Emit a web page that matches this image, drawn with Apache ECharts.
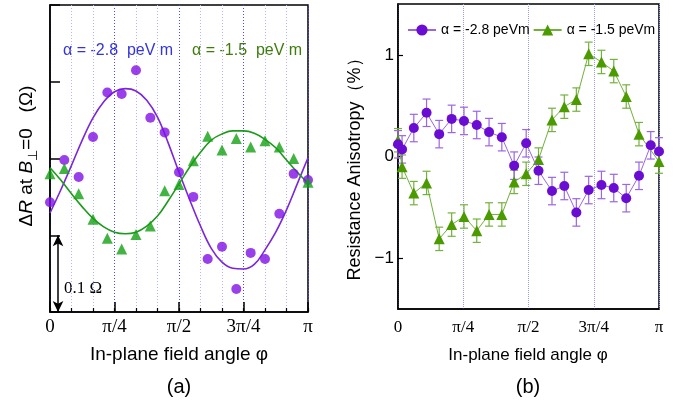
<!DOCTYPE html>
<html>
<head>
<meta charset="utf-8">
<script src="https://cdn.jsdelivr.net/npm/echarts@6/dist/echarts.min.js"></script>
<style>html,body{margin:0;padding:0;background:#fff;}#c{width:679px;height:405px;}</style>
</head>
<body>
<div id="c"></div>
<script>
// ---- data ----
const tickLabels = ['0', 'π/4', 'π/2', '3π/4', 'π'];
// panel (a): measured points (deg, mΩ relative)
const leftAngles = [0,10,20,30,40,50,60,70,80,90,100,110,120,130,140,150,160,170,180];
const leftPurple = [143,198,176,228,286,284,315,253,234,182,150,69,85,30,77,69,128,180,172];
const leftGreen  = [180,187,154,121,96,82,101,112,158,166,197,229,211,226,215,223,215,200,169];
// panel (a): fit curves
const fitAngles = [0,7.5,15,22.5,30,37.5,45,52.5,60,67.5,75,82.5,90,97.5,105,112.5,120,127.5,135,142.5,150,157.5,165,172.5,180];
const fitPurple = [129,159,191,224,253,274,287,291,288,276,254,220,182,146,112,83,65,57,56,62,81,104,133,167,201];
const fitGreen  = [188,172,154,137,122,111,104,102,104,112,125,145,167,189,208,224,232,236,236,233,225,214,198,182,168];
// panel (b)
const rightAnglesP = [0,2.8,10.9,19.7,28.4,37.0,45.5,54.3,62.8,71.6,80.1,88.4,96.9,106.2,114.7,123.0,131.5,140.3,148.8,157.4,166.2,174.3,180];
const rightPurple  = [0.12,0.07,0.28,0.43,0.22,0.37,0.35,0.31,0.24,0.19,-0.09,0.13,-0.14,-0.34,-0.29,-0.55,-0.33,-0.28,-0.31,-0.41,-0.19,0.11,0.05];
const rightAnglesG = [0,2.8,10.9,19.7,28.4,37.0,45.5,54.3,62.8,71.6,80.1,88.4,96.9,106.2,114.7,123.0,131.5,140.3,148.8,157.4,166.2,180];
const rightGreen   = [0.16,-0.10,-0.36,-0.26,-0.81,-0.67,-0.59,-0.73,-0.57,-0.57,-0.25,-0.17,-0.03,0.36,0.49,0.56,1.01,0.93,0.84,0.59,0.22,-0.05];
const errPurple = 0.135;
const errGreen = 0.115;
const legendNames = ['α = -2.8 peVm', 'α = -1.5 peVm'];

const zip = (a, b) => a.map((x, i) => [x, b[i]]);
const SANS = '"Liberation Sans", Arial, sans-serif';
const SERIF = '"Liberation Serif", "Times New Roman", serif';
const piFmt = v => tickLabels[Math.round(v / 45)] || '';

function errRender(err, color) {
  return function (params, api) {
    const x = api.value(0), y = api.value(1);
    const t = api.coord([x, y + err]), b = api.coord([x, y - err]);
    const w = 4;
    const st = { stroke: color, lineWidth: 1.2 };
    return { type: 'group', children: [
      { type: 'line', shape: { x1: t[0], y1: t[1], x2: b[0], y2: b[1] }, style: st },
      { type: 'line', shape: { x1: t[0] - w, y1: t[1], x2: t[0] + w, y2: t[1] }, style: st },
      { type: 'line', shape: { x1: b[0] - w, y1: b[1], x2: b[0] + w, y2: b[1] }, style: st }
    ]};
  };
}

const chart = echarts.init(document.getElementById('c'), null, { renderer: 'canvas' });
const blackLine = { onZero: false, lineStyle: { color: '#000', width: 1.5 } };
const DARK = '#4a4ae8', LIGHT = '#b4b4fa';

const option = {
  animation: false,
  backgroundColor: '#fff',
  grid: [
    { left: 50, top: 5, width: 258, height: 307, show: true, borderColor: '#000', borderWidth: 1.5 },
    { left: 398, top: 4, width: 261, height: 305, show: true, borderColor: '#000', borderWidth: 1.5 }
  ],
  legend: {
    data: legendNames, left: 402, top: 18, itemWidth: 28, itemHeight: 14, itemGap: 3,
    textStyle: { fontFamily: SANS, fontSize: 14, color: '#000' }
  },
  xAxis: [
    { gridIndex: 0, type: 'value', min: 0, max: 180, interval: 45, position: 'bottom',
      axisLine: blackLine, axisTick: { inside: true, length: 10, lineStyle: { color: '#000', width: 1.5 } },
      axisLabel: { formatter: piFmt, fontFamily: SERIF, fontSize: 19, color: '#000', margin: 6 },
      splitLine: { show: false } },
    { gridIndex: 0, type: 'value', min: 0, max: 180, interval: 15, position: 'bottom',
      axisLine: { show: false, onZero: false }, axisTick: { inside: true, length: 4, lineStyle: { color: '#000', width: 1.2 } },
      axisLabel: { show: false },
      splitLine: { show: true, showMinLine: true, showMaxLine: true,
        lineStyle: { color: [DARK, LIGHT, LIGHT], type: [1, 2], width: 1 } } },
    { gridIndex: 1, type: 'value', min: 0, max: 180, interval: 45, position: 'bottom',
      axisLine: blackLine, axisTick: { show: false },
      axisLabel: { formatter: piFmt, fontFamily: SERIF, fontSize: 17, color: '#000', margin: 10 },
      splitLine: { show: true, lineStyle: { color: '#9a9af2', type: [1, 1], width: 1 } } }
  ],
  yAxis: [
    { gridIndex: 0, type: 'value', min: 0, max: 400, interval: 100,
      axisLine: blackLine, axisTick: { inside: true, length: 10, lineStyle: { color: '#000', width: 1.5 } },
      axisLabel: { show: false }, splitLine: { show: false } },
    { gridIndex: 1, type: 'value', min: -1.5, max: 1.5, interval: 0.5,
      axisLine: blackLine,
      axisTick: { inside: true, length: 5, customValues: [-1, 0, 1], lineStyle: { color: '#000', width: 1.2 } },
      axisLabel: { customValues: [-1, 0, 1], formatter: v => (v < 0 ? '\u2212' + Math.abs(v) : String(v)),
        fontFamily: SANS, fontSize: 17, color: '#000', margin: 4 },
      splitLine: { show: false } }
  ],
  series: [
    { name: 'fitP', type: 'line', xAxisIndex: 0, yAxisIndex: 0, data: zip(fitAngles, fitPurple),
      smooth: 0.4, showSymbol: false, lineStyle: { color: '#7b25dc', width: 1.6 }, z: 3,
      markLine: { silent: true, symbol: ['arrow', 'arrow'], symbolSize: [8, 11],
        label: { show: false }, lineStyle: { color: '#000', width: 1.5, type: 'solid' },
        data: [[{ coord: [5.6, 100] }, { coord: [5.6, 0] }]] } },
    { name: 'fitG', type: 'line', xAxisIndex: 0, yAxisIndex: 0, data: zip(fitAngles, fitGreen),
      smooth: 0.4, showSymbol: false, lineStyle: { color: '#1c9a1c', width: 1.6 }, z: 3 },
    { name: 'ptsP', type: 'scatter', xAxisIndex: 0, yAxisIndex: 0, data: zip(leftAngles, leftPurple),
      symbol: 'circle', symbolSize: 10, itemStyle: { color: '#8010e6' }, z: 4 },
    { name: 'ptsG', type: 'scatter', xAxisIndex: 0, yAxisIndex: 0, data: zip(leftAngles, leftGreen),
      symbol: 'triangle', symbolSize: 11, itemStyle: { color: '#14a014' }, z: 5 },
    { type: 'custom', xAxisIndex: 2, yAxisIndex: 1, data: zip(rightAnglesG, rightGreen),
      renderItem: errRender(errGreen, '#74b23e'), z: 2, silent: true },
    { type: 'custom', xAxisIndex: 2, yAxisIndex: 1, data: zip(rightAnglesP, rightPurple),
      renderItem: errRender(errPurple, '#9a66e2'), z: 2, silent: true },
    { name: legendNames[1], type: 'line', xAxisIndex: 2, yAxisIndex: 1, data: zip(rightAnglesG, rightGreen),
      symbol: 'triangle', symbolSize: 11, itemStyle: { color: '#4b9a00' },
      lineStyle: { color: '#72b03c', width: 1 }, z: 3 },
    { name: legendNames[0], type: 'line', xAxisIndex: 2, yAxisIndex: 1, data: zip(rightAnglesP, rightPurple),
      symbol: 'circle', symbolSize: 10, itemStyle: { color: '#6a0cd2' },
      lineStyle: { color: '#9966e0', width: 1 }, z: 4 }
  ],
  graphic: [
    { type: 'text', x: 63, y: 51, style: { text: 'α = -2.8  peV m', fill: '#3434dc', font: '16px ' + SANS, textAlign: 'left', textVerticalAlign: 'middle', align: 'left', verticalAlign: 'middle' } },
    { type: 'text', x: 192, y: 51, style: { text: 'α = -1.5  peV m', fill: '#3e7d0c', font: '16px ' + SANS, textAlign: 'left', textVerticalAlign: 'middle', align: 'left', verticalAlign: 'middle' } },
    { type: 'text', x: 64, y: 289, style: { text: '0.1 Ω', fill: '#000', font: '17px ' + SERIF, textAlign: 'left', textVerticalAlign: 'middle', align: 'left', verticalAlign: 'middle' } },
    { type: 'text', x: 179, y: 355, style: { text: 'In-plane field angle φ', fill: '#000', font: '19px ' + SANS, textAlign: 'center', textVerticalAlign: 'middle', align: 'center', verticalAlign: 'middle' } },
    { type: 'text', x: 528, y: 355, style: { text: 'In-plane field angle φ', fill: '#000', font: '17px ' + SANS, textAlign: 'center', textVerticalAlign: 'middle', align: 'center', verticalAlign: 'middle' } },
    { type: 'text', x: 179, y: 387, style: { text: '(a)', fill: '#000', font: '20px ' + SANS, textAlign: 'center', textVerticalAlign: 'middle', align: 'center', verticalAlign: 'middle' } },
    { type: 'text', x: 528, y: 387, style: { text: '(b)', fill: '#000', font: '20px ' + SANS, textAlign: 'center', textVerticalAlign: 'middle', align: 'center', verticalAlign: 'middle' } },
    { type: 'text', x: 27, y: 156, rotation: Math.PI / 2,
      style: { text: '{n|Δ}{i|R}{n| at }{i|B}{s|⊥}{n|=0   (Ω)}', fill: '#000',
        textAlign: 'center', textVerticalAlign: 'middle', align: 'center', verticalAlign: 'middle',
        rich: {
          n: { fontSize: 19, fontFamily: SANS, fill: '#000' },
          i: { fontSize: 19, fontFamily: SANS, fontStyle: 'italic', fill: '#000' },
          s: { fontSize: 13, fontFamily: SANS, fill: '#000', verticalAlign: 'bottom', padding: [12, 0, 0, 0] }
        } } },
    { type: 'text', x: 355, y: 165, rotation: Math.PI / 2,
      style: { text: 'Resistance Anisotropy（%）', fill: '#000', font: '18px ' + SANS,
        textAlign: 'center', textVerticalAlign: 'middle', align: 'center', verticalAlign: 'middle' } }
  ]
};
chart.setOption(option);
</script>
</body>
</html>
